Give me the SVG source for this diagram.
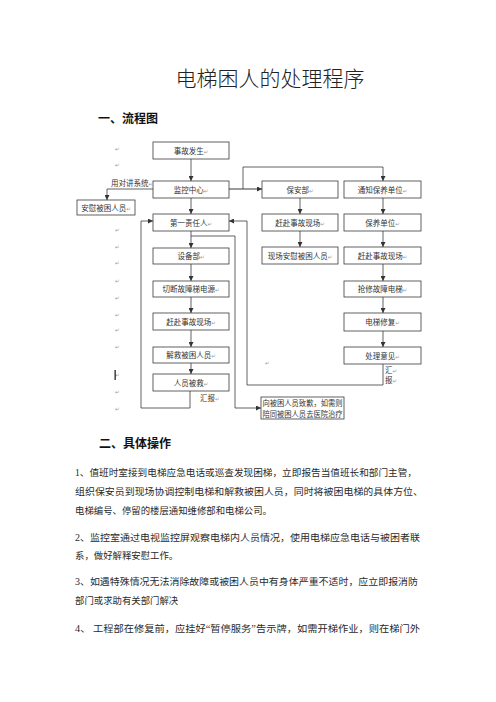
<svg xmlns="http://www.w3.org/2000/svg" width="496" height="702" viewBox="0 0 496 702">
<style>
.bg{fill:#ffffff}
.box{fill:#ffffff;stroke:#3a3a3a;stroke-width:0.8}
.bt{font-family:"Noto Sans CJK SC","Noto Sans",sans-serif;font-size:7.5px;fill:#333;text-anchor:middle}
.pm{font-family:"DejaVu Sans",sans-serif;font-size:5.5px;fill:#9a9a9a}
.ln{fill:none;stroke:#3a3a3a;stroke-width:0.8}
.title{font-family:"Noto Sans CJK SC",sans-serif;font-size:21px;fill:#222;font-weight:300}
.h{font-family:"Noto Sans CJK SC",sans-serif;font-size:12px;font-weight:bold;fill:#111}
.p{font-family:"Liberation Serif","Noto Sans CJK SC",serif;font-size:9.4px;fill:#2a2a2a}
.lbl{font-family:"Noto Sans CJK SC",sans-serif;font-size:7.5px;fill:#333}
</style>
<defs>
<marker id="ah" viewBox="0 0 6 6" refX="6" refY="3" markerWidth="5" markerHeight="5" orient="auto" markerUnits="userSpaceOnUse">
<path d="M0,0 L6,3 L0,6 z" fill="#333"/>
</marker>
</defs>
<rect class="bg" x="0" y="0" width="496" height="702"/>

<text class="title" x="270" y="86" text-anchor="middle">电梯困人的处理程序</text>
<text class="h" x="98" y="123">一、流程图</text>

<g id="connectors">
<path class="ln" d="M191,159 V181" marker-end="url(#ah)"/>
<path class="ln" d="M191,198 V214" marker-end="url(#ah)"/>
<path class="ln" d="M191,231 V248" marker-end="url(#ah)"/>
<path class="ln" d="M191,264 V281" marker-end="url(#ah)"/>
<path class="ln" d="M191,297 V313" marker-end="url(#ah)"/>
<path class="ln" d="M191,330 V347" marker-end="url(#ah)"/>
<path class="ln" d="M191,363 V374" marker-end="url(#ah)"/>
<path class="ln" d="M190,391 V408 H141 V221 H153" marker-end="url(#ah)"/>
<path class="ln" d="M191,236 H235 V408 H261" marker-end="url(#ah)"/>
<path class="ln" d="M229,189 H262" marker-end="url(#ah)" style="stroke-width:1.2"/>
<path class="ln" d="M243,189 V167 H383 V181" marker-end="url(#ah)"/>
<path class="ln" d="M300,198 V214" marker-end="url(#ah)"/>
<path class="ln" d="M300,231 V247" marker-end="url(#ah)"/>
<path class="ln" d="M383,198 V214" marker-end="url(#ah)"/>
<path class="ln" d="M383,231 V247" marker-end="url(#ah)"/>
<path class="ln" d="M383,264 V281" marker-end="url(#ah)"/>
<path class="ln" d="M383,297 V313" marker-end="url(#ah)"/>
<path class="ln" d="M383,331 V347" marker-end="url(#ah)"/>
<path class="ln" d="M383,364 V385 H247 V221 H229" marker-end="url(#ah)"/>
<path class="ln" d="M153,189 H107 V200" marker-end="url(#ah)"/>
</g>

<g id="n1"><rect class="box" x="153" y="142" width="76" height="17"/><text class="bt" x="191" y="153.5">事故发生<tspan class="pm">↵</tspan></text></g>
<g id="n2"><rect class="box" x="153" y="181" width="76" height="17"/><text class="bt" x="191" y="192.5">监控中心<tspan class="pm">↵</tspan></text></g>
<g id="n3"><rect class="box" x="153" y="214" width="76" height="17"/><text class="bt" x="191" y="225.5">第一责任人<tspan class="pm">↵</tspan></text></g>
<g id="n4"><rect class="box" x="153" y="248" width="76" height="16"/><text class="bt" x="191" y="259">设备部<tspan class="pm">↵</tspan></text></g>
<g id="n5"><rect class="box" x="153" y="281" width="76" height="16"/><text class="bt" x="191" y="292">切断故障梯电源<tspan class="pm">↵</tspan></text></g>
<g id="n6"><rect class="box" x="153" y="313" width="76" height="17"/><text class="bt" x="191" y="324.5">赶赴事故现场<tspan class="pm">↵</tspan></text></g>
<g id="n7"><rect class="box" x="153" y="347" width="76" height="16"/><text class="bt" x="191" y="358">解救被困人员<tspan class="pm">↵</tspan></text></g>
<g id="n8"><rect class="box" x="153" y="374" width="76" height="17"/><text class="bt" x="191" y="385.5">人员被救<tspan class="pm">↵</tspan></text></g>

<g id="n9"><rect class="box" x="262" y="181" width="76" height="17"/><text class="bt" x="300" y="192.5">保安部<tspan class="pm">↵</tspan></text></g>
<g id="n10"><rect class="box" x="262" y="214" width="76" height="17"/><text class="bt" x="300" y="225.5">赶赴事故现场<tspan class="pm">↵</tspan></text></g>
<g id="n11"><rect class="box" x="262" y="247" width="76" height="17"/><text class="bt" x="300" y="258.5">现场安慰被困人员<tspan class="pm">↵</tspan></text></g>

<g id="n12"><rect class="box" x="344" y="181" width="77" height="17"/><text class="bt" x="382.5" y="192.5">通知保养单位<tspan class="pm">↵</tspan></text></g>
<g id="n13"><rect class="box" x="344" y="214" width="77" height="17"/><text class="bt" x="382.5" y="225.5">保养单位<tspan class="pm">↵</tspan></text></g>
<g id="n14"><rect class="box" x="344" y="247" width="77" height="17"/><text class="bt" x="382.5" y="258.5">赶赴事故现场<tspan class="pm">↵</tspan></text></g>
<g id="n15"><rect class="box" x="344" y="281" width="77" height="16"/><text class="bt" x="382.5" y="292">抢修故障电梯<tspan class="pm">↵</tspan></text></g>
<g id="n16"><rect class="box" x="344" y="313" width="77" height="18"/><text class="bt" x="382.5" y="325">电梯修复<tspan class="pm">↵</tspan></text></g>
<g id="n17"><rect class="box" x="344" y="347" width="77" height="17"/><text class="bt" x="382.5" y="358.5">处理意见<tspan class="pm">↵</tspan></text></g>

<g id="n18"><rect class="box" x="77" y="200" width="58" height="15"/><text class="bt" x="106" y="210.5">安慰被困人员<tspan class="pm">↵</tspan></text></g>
<g id="n19"><rect class="box" x="261" y="397" width="83" height="22"/>
<text class="lbl" x="262.5" y="406" textLength="80" lengthAdjust="spacingAndGlyphs">向被困人员致歉，如需则</text>
<text class="lbl" x="262.5" y="416.5" textLength="80" lengthAdjust="spacingAndGlyphs">陪同被困人员去医院治疗</text></g>

<g id="labels">
<text class="lbl" x="111" y="186">用对讲系统<tspan class="pm">↵</tspan></text>
<text class="lbl" x="200" y="401">汇报<tspan class="pm">↵</tspan></text>
<text class="lbl" x="385" y="373">汇<tspan class="pm">↵</tspan></text>
<text class="lbl" x="385" y="383">报<tspan class="pm">↵</tspan></text>
</g>

<g id="marks" class="pm">
<text x="115" y="151">↵</text>
<text x="115" y="167">↵</text>
<text x="115" y="232">↵</text>
<text x="115" y="249">↵</text>
<text x="115" y="265">↵</text>
<text x="115" y="283">↵</text>
<text x="115" y="300">↵</text>
<text x="115" y="317">↵</text>
<text x="115" y="332">↵</text>
<text x="115" y="349">↵</text>
<text x="115" y="377">↵</text>
<text x="115" y="394">↵</text>
<text x="115" y="411">↵</text>
<text x="265" y="365">↵</text>
</g>
<rect x="114.5" y="370" width="1.3" height="10" fill="#222"/>

<text class="h" x="99" y="448">二、具体操作</text>
<g id="body">
<text class="p" x="75" y="476" textLength="342" lengthAdjust="spacingAndGlyphs">1、值班时室接到电梯应急电话或巡查发现困梯，立即报告当值班长和部门主管，</text>
<text class="p" x="75" y="495" textLength="348" lengthAdjust="spacingAndGlyphs">组织保安员到现场协调控制电梯和解救被困人员，同时将被困电梯的具体方位、</text>
<text class="p" x="75" y="514">电梯编号、停留的楼层通知维修部和电梯公司。</text>
<text class="p" x="75" y="541" textLength="345" lengthAdjust="spacingAndGlyphs">2、监控室通过电视监控屏观察电梯内人员情况，使用电梯应急电话与被困者联</text>
<text class="p" x="75" y="559">系，做好解释安慰工作。</text>
<text class="p" x="75" y="585" textLength="343" lengthAdjust="spacingAndGlyphs">3、如遇特殊情况无法消除故障或被困人员中有身体严重不适时，应立即报消防</text>
<text class="p" x="75" y="604">部门或求助有关部门解决</text>
<text class="p" x="75" y="632" textLength="345" lengthAdjust="spacingAndGlyphs">4、 工程部在修复前，应挂好“暂停服务”告示牌，如需开梯作业，则在梯门外</text>
</g>
</svg>
